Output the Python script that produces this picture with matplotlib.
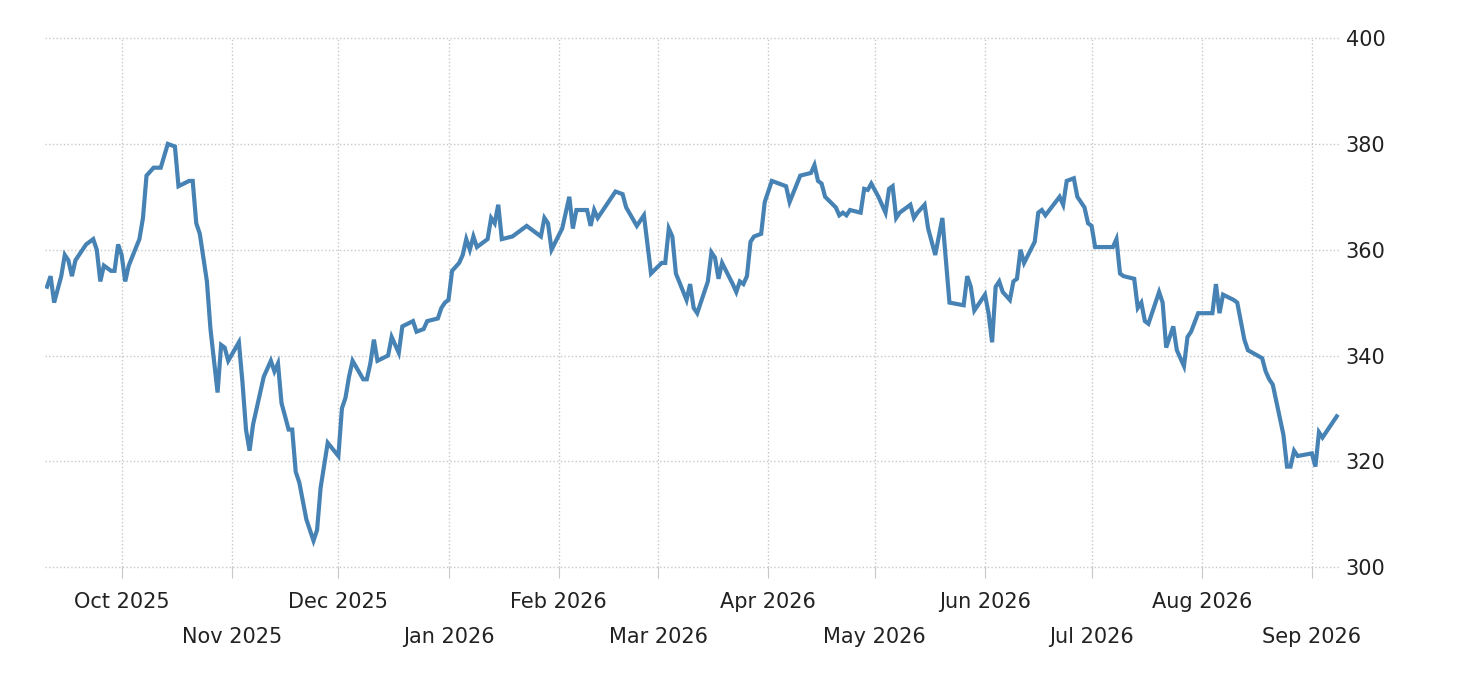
import numpy as np
import pandas as pd
import matplotlib
matplotlib.use("Agg")
import matplotlib.pyplot as plt
import matplotlib.dates as mdates

# ── DATA ──────────────────────────────────────────────────────────────────────
START = pd.Timestamp("2025-09-10")

day_offset = [
    0, 1, 2, 4, 5, 6, 7, 8, 11, 13, 14, 15, 16, 18, 19, 20, 21, 22, 23, 26,
    27, 28, 30, 32, 34, 36, 37, 40, 41, 42, 43, 45, 46, 48, 49, 50, 51, 54, 55, 56,
    57, 58, 61, 63, 64, 65, 66, 68, 69, 70, 71, 73, 75, 76, 77, 79, 82, 83, 84, 85,
    86, 89, 90, 91, 92, 93, 96, 97, 99, 100, 103, 104, 106, 107, 110, 111, 112, 113, 114, 116,
    117, 118, 119, 120, 121, 124, 125, 126, 127, 128, 131, 133, 135, 139, 140, 141, 142, 145, 146, 147,
    148, 149, 152, 153, 154, 155, 158, 160, 162, 163, 166, 168, 170, 173, 174, 175, 176, 177, 180, 181,
    182, 183, 186, 187, 188, 189, 190, 193, 194, 195, 196, 197, 198, 199, 201, 202, 204, 208, 209, 212,
    215, 216, 217, 218, 219, 222, 223, 224, 225, 226, 229, 230, 231, 232, 234, 236, 237, 238, 239, 240,
    243, 244, 245, 247, 248, 250, 252, 254, 258, 259, 260, 261, 264, 265, 266, 267, 268, 269, 271, 272,
    273, 274, 275, 278, 279, 280, 281, 285, 286, 287, 289, 290, 292, 293, 294, 295, 300, 301, 302, 303,
    306, 307, 308, 309, 310, 313, 314, 315, 317, 318, 320, 321, 322, 324, 328, 329, 330, 331, 334, 335,
    337, 338, 342, 343, 344, 345, 348, 349, 350, 351, 352, 356, 357, 358, 359, 363,
]

price = [
    353, 355, 350, 355, 359, 358, 355, 358, 361, 362, 360, 354, 357, 356, 356, 361, 359, 354, 357, 362,
    366, 374, 375.5, 375.5, 380, 379.5, 372, 373, 373, 365, 363, 354, 345, 333, 342, 341.5, 339, 342.5, 335, 326,
    322, 327, 336, 339, 337, 338.5, 331, 326, 326, 318, 316, 309, 305, 307, 315, 323.5, 321, 330, 332, 336,
    339, 335.5, 335.5, 338.5, 343, 339, 340, 343.5, 340.5, 345.5, 346.5, 344.5, 345, 346.5, 347, 349, 350, 350.5, 356, 357.5,
    359, 362, 360, 362.5, 360.5, 362, 366, 365, 368.5, 362, 362.5, 363.5, 364.5, 362.5, 366, 365, 360, 364, 367, 370,
    364, 367.5, 367.5, 364.5, 367.5, 366, 369, 371, 370.5, 368, 364.5, 366.5, 355.5, 357.5, 357.5, 364, 362.5, 355.5, 350.5, 353.5,
    349, 348, 354, 359.5, 358.5, 354.5, 357.5, 353.5, 352, 354, 353.5, 355, 361.5, 362.5, 363, 369, 373, 372, 369, 374,
    374.5, 376, 373, 372.5, 370, 368, 366.5, 367, 366.5, 367.5, 367, 371.5, 371.3, 372.5, 370, 367, 371.5, 372, 366, 367,
    368.5, 366, 367, 368.5, 364, 359, 366, 350, 349.5, 355, 353, 348.5, 351.5, 348, 342.5, 353, 354, 352, 350.5, 354,
    354.5, 360, 357.5, 361.5, 367, 367.5, 366.5, 370, 368.5, 373, 373.5, 370, 368, 365, 364.5, 360.5, 360.5, 362, 355.5, 355,
    354.5, 349, 350, 346.5, 346, 352, 350, 341.5, 345.5, 341, 338, 343.5, 344.5, 348, 348, 353.5, 348, 351.5, 350.5, 350,
    343, 341, 339.5, 337, 335.5, 334.5, 325, 319, 319, 322, 321, 321.5, 319, 325.5, 324.5, 328.5,
]

y_ticks = [300, 320, 340, 360, 380, 400]

dates = [START + pd.Timedelta(days=d) for d in day_offset]

# ── PLOT ──────────────────────────────────────────────────────────────────────
fig = plt.figure(figsize=(14.6, 6.8), dpi=100)
ax = fig.add_axes([0.031, 0.166, 0.887, 0.778])

ax.plot(dates, price, color="#4682b4", linewidth=3, solid_joinstyle="miter")

ax.set_xlim(START - pd.Timedelta(days=0.5), START + pd.Timedelta(days=364))
ax.set_ylim(300, 400)

month_starts = pd.date_range("2025-10-01", "2026-09-01", freq="MS")
ax.set_xticks(month_starts)
labels = []
for i, m in enumerate(month_starts):
    txt = m.strftime("%b %Y")
    labels.append(txt if i % 2 == 0 else "\n" + txt)
ax.set_xticklabels(labels)

ax.set_yticks(y_ticks)
ax.yaxis.tick_right()

for s in ax.spines.values():
    s.set_visible(False)

ax.grid(True, color="#c8c8c8", linestyle=":", linewidth=1)
for gl in ax.get_xgridlines() + ax.get_ygridlines():
    gl.set_clip_on(False)
ax.tick_params(axis="x", length=8, color="#c8c8c8", labelsize=15, pad=10,
               labelcolor="#222222")
ax.tick_params(axis="y", length=0, labelsize=15, pad=4, labelcolor="#222222")
for lbl in ax.get_xticklabels():
    lbl.set_linespacing(1.9)

fig.savefig("out.png", dpi=100)
